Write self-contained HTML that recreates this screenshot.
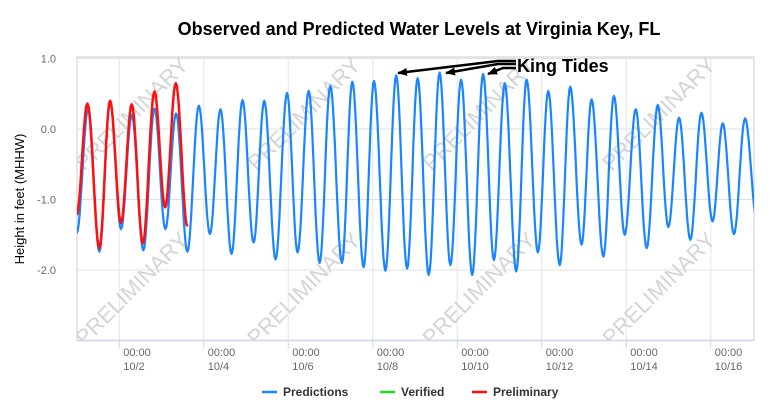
<!DOCTYPE html>
<html><head><meta charset="utf-8"><style>
html,body{margin:0;padding:0;background:#fff;}
svg{display:block;font-family:"Liberation Sans",sans-serif;}
</style></head><body>
<svg id="chart" width="770" height="420" viewBox="0 0 770 420">
<defs><clipPath id="pc"><rect x="77" y="40" width="677" height="301"/></clipPath>
<marker id="ah" markerWidth="10" markerHeight="8" refX="9" refY="4" orient="auto" markerUnits="userSpaceOnUse"><path d="M0,0 L10,4 L0,8 z" fill="#000"/></marker></defs>
<text x="419" y="35" text-anchor="middle" font-size="18" font-weight="bold" fill="#000">Observed and Predicted Water Levels at Virginia Key, FL</text>
<g id="grid"></g>
<g id="watermarks" clip-path="url(#pc)"></g>
<g id="series" clip-path="url(#pc)"></g>
<g id="axes"></g>
<text transform="translate(24,199) rotate(-90)" text-anchor="middle" font-size="13" fill="#000">Height in feet (MHHW)</text>
<g>
<text x="517" y="72" font-size="18" font-weight="bold" fill="#000">King Tides</text>
<path d="M516,61 L498,61 L398,73" stroke="#000" stroke-width="2.5" fill="none" marker-end="url(#ah)"/>
<path d="M516,64 L498,64 L446,73" stroke="#000" stroke-width="2.5" fill="none" marker-end="url(#ah)"/>
<path d="M516,68 L503,68 L488,74" stroke="#000" stroke-width="2.5" fill="none" marker-end="url(#ah)"/>
</g>
<g font-size="12" font-weight="bold" fill="#333">
<g><line x1="262" y1="392" x2="277" y2="392" stroke="#1a85ff" stroke-width="2.5"/><text x="283" y="396">Predictions</text></g>
<g><line x1="380" y1="392" x2="395" y2="392" stroke="#22dd22" stroke-width="2.5"/><text x="401" y="396">Verified</text></g>
<g><line x1="472" y1="392" x2="487" y2="392" stroke="#ff1010" stroke-width="2.5"/><text x="493" y="396">Preliminary</text></g>
</g>
</svg>
<script>
// tide extrema: hours since 10/1 00:00, heights in ft MHHW
const predTimes = [-0.2,6.4,12.7,18.8,25.0,31.1,37.7,44.0,50.2,56.3,62.7,69.2,75.5,81.5,87.8,94.0,100.3,106.4,112.8,119.3,125.3,131.6,137.8,143.9,150.5,156.4,162.8,168.7,175.2,181.3,187.5,193.5,199.8,206.0,212.1,218.2,224.5,230.7,236.8,243.0,249.5,255.4,261.8,267.7,274.2,280.2,286.6,292.3,299.0,305.0,311.1,317.4,323.6,329.9,335.9,342.0,348.4,354.7,361.0,366.8,373.2,379.5,386.2];
const predValues = [-1.48,0.29,-1.74,0.39,-1.42,0.20,-1.72,0.29,-1.42,0.22,-1.74,0.33,-1.49,0.28,-1.77,0.41,-1.61,0.40,-1.85,0.51,-1.75,0.54,-1.90,0.61,-1.90,0.67,-1.96,0.68,-2.01,0.76,-1.98,0.72,-2.07,0.80,-1.93,0.70,-2.07,0.78,-1.86,0.65,-2.02,0.70,-1.75,0.54,-1.93,0.60,-1.64,0.42,-1.81,0.47,-1.50,0.28,-1.69,0.34,-1.39,0.16,-1.57,0.23,-1.31,0.08,-1.49,0.15,-1.28];
const prelimTimes = [-0.2,5.9,12.7,18.8,25.0,31.1,37.4,44.0,50.1,56.1,62.7];
const prelimValues = [-1.22,0.36,-1.69,0.40,-1.33,0.35,-1.62,0.53,-1.11,0.65,-1.38];
const yTicks = [1.0,0.0,-1.0,-2.0];
const yTickLabels = ["1.0","0.0","-1.0","-2.0"];
const xTickDays = [1,3,5,7,9,11,13,15];
const xTickLabels = ["10/2","10/4","10/6","10/8","10/10","10/12","10/14","10/16"];

const L=77,R=754,T=57,B=340.5;
const yMin=-3,yMax=1;
const hMax=(R-L)/42.25*24;
const xs=h=>L+h/24*42.25;
const ys=v=>B-(v-yMin)/(yMax-yMin)*(B-58.5);
const NS="http://www.w3.org/2000/svg";
function mk(tag,attrs,parent){const e=document.createElementNS(NS,tag);for(const k in attrs)e.setAttribute(k,attrs[k]);parent.appendChild(e);return e;}
const grid=document.getElementById('grid'),axes=document.getElementById('axes'),ser=document.getElementById('series'),wm=document.getElementById('watermarks');

const bg=mk('rect',{x:L,y:T,width:R-L,height:B-T,fill:'none',stroke:'#ccc','stroke-width':1},grid);


yTicks.forEach((v,i)=>{
  const g=mk('line',{x1:L,x2:R,y1:ys(v),y2:ys(v),stroke:'#e0e0e0','stroke-width':1},grid);
  
  
  const t=mk('text',{x:56,y:ys(v)+4,'text-anchor':'end','font-size':11,fill:'#666'},axes);
  t.textContent=yTickLabels[i];
  
  
});
xTickDays.forEach((d,i)=>{
  const x=xs(d*24);
  const g=mk('line',{x1:x,x2:x,y1:T,y2:B,stroke:'#e6e6e6','stroke-width':1},grid);
  
  
  const tk=mk('line',{x1:x,x2:x,y1:B,y2:B+8,stroke:'#ccd6eb','stroke-width':1},axes);
  
  
  const t1=mk('text',{x:x+4,y:356,'font-size':11,fill:'#666'},axes);
  t1.textContent='00:00';
  
  
  const t2=mk('text',{x:x+4,y:370,'font-size':11,fill:'#666'},axes);
  t2.textContent=xTickLabels[i];
  
  
});
const ax=mk('line',{x1:L,x2:R,y1:B,y2:B,stroke:'#ccd6eb','stroke-width':1.5},axes);



[[133,115],[305,115],[480,115],[660,115],[133,290],[305,290],[480,290],[660,290]].forEach(p=>{
  const t=mk('text',{x:p[0],y:p[1],'text-anchor':'middle','font-size':22,fill:'#d4d4d4',transform:`rotate(-45 ${p[0]} ${p[1]})`,'dominant-baseline':'middle'},wm);
  t.textContent='PRELIMINARY';
  
  
});

function curve(times,vals,tEnd){
  let d='';
  for(let i=0;i<times.length-1;i++){
    const t0=times[i],t1=times[i+1],v0=vals[i],v1=vals[i+1];
    for(let k=0;k<=12;k++){
      const t=t0+(t1-t0)*k/12;
      if(t>tEnd)break;
      const v=v0+(v1-v0)*(1-Math.cos(Math.PI*k/12))/2;
      d+=(d?'L':'M')+xs(t).toFixed(1)+','+ys(v).toFixed(1);
    }
  }
  return d;
}
const pl=mk('path',{d:curve(predTimes,predValues,hMax+5),fill:'none',stroke:'#1a85ff','stroke-width':2.2,'stroke-linejoin':'round'},ser);


const rl=mk('path',{d:curve(prelimTimes,prelimValues,62.7),fill:'none',stroke:'#ff1010','stroke-width':2.5,'stroke-linejoin':'round'},ser);


</script>
</body></html>
